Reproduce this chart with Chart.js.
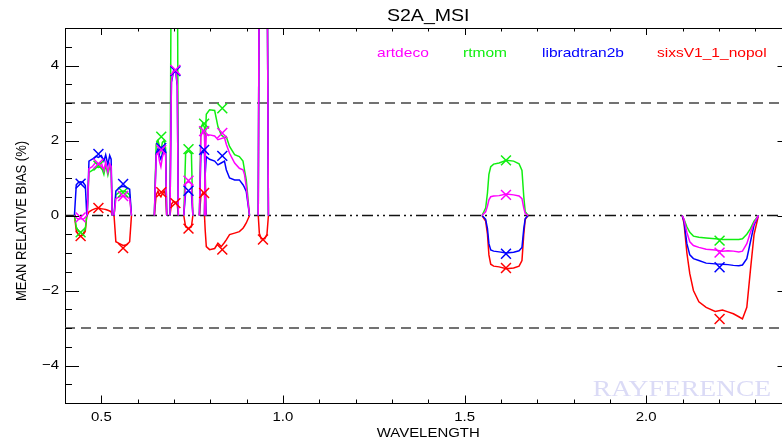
<!DOCTYPE html>
<html>
<head>
<meta charset="utf-8">
<script src="https://cdn.jsdelivr.net/npm/chart.js@4/dist/chart.umd.min.js"></script>
<style>
  html, body { margin: 0; padding: 0; background: #fff; overflow: hidden; }
</style>
</head>
<body>
<canvas id="biasChart" width="800" height="441"></canvas>
<script>
// Wavelength samples (micrometres) of each S2A MSI band curve
const bandWavelengths = [
  [0.426, 0.431, 0.437, 0.443, 0.450, 0.456, 0.460],
  [0.461, 0.466, 0.475, 0.485, 0.492, 0.500, 0.507, 0.512, 0.518, 0.523, 0.527, 0.530],
  [0.535, 0.540, 0.550, 0.560, 0.570, 0.578, 0.583],
  [0.646, 0.651, 0.656, 0.660, 0.664, 0.668, 0.673, 0.677, 0.680],
  [0.689, 0.693, 0.699, 0.705, 0.709, 0.712],
  [0.727, 0.732, 0.740, 0.748, 0.752],
  [0.770, 0.774, 0.779, 0.784, 0.788],
  [0.784, 0.786, 0.789, 0.798, 0.812, 0.821, 0.830, 0.839, 0.844, 0.853, 0.867, 0.880, 0.890, 0.894, 0.899, 0.908],
  [0.932, 0.935, 0.940, 0.950, 0.956, 0.960],
  [1.548, 1.558, 1.563, 1.567, 1.572, 1.580, 1.595, 1.615, 1.635, 1.650, 1.658, 1.663, 1.667, 1.675],
  [2.099, 2.104, 2.112, 2.120, 2.130, 2.145, 2.165, 2.190, 2.210, 2.225, 2.240, 2.255, 2.265, 2.277, 2.287, 2.297, 2.309]
];

// Mean relative bias (%) per band, same sampling as above (values > 5 are off scale)
const artdecoBias = [
  [0, -0.06, -0.1, -0.08, -0.1, -0.05, 0],
  [0, 1.25, 1.3, 1.42, 1.35, 1.4, 1.2, 1.42, 1.15, 1.38, 1.3, 0],
  [0, 0.45, 0.5, 0.52, 0.5, 0.45, 0],
  [0, 1.6, 1.7, 1.45, 1.3, 1.55, 1.7, 1.6, 0],
  [0, 3.6, 3.88, 3.85, 3.5, 0],
  [0, 0.85, 0.9, 0.85, 0],
  [0, 2.1, 2.25, 2.15, 0],
  [0, 1.5, 2.15, 2.15, 2.12, 2.02, 2.05, 2.08, 1.9, 1.66, 1.4, 1.26, 1.22, 1.1, 0.77, 0],
  [0, 8, 12, 12, 8, 0],
  [0, 0.1, 0.25, 0.42, 0.5, 0.52, 0.53, 0.57, 0.55, 0.52, 0.45, 0.2, 0.05, 0],
  [0, -0.1, -0.45, -0.7, -0.8, -0.85, -0.9, -0.92, -0.95, -0.94, -0.95, -0.97, -0.95, -0.75, -0.45, -0.2, 0]
];
const rtmomBias = [
  [0, -0.3, -0.42, -0.45, -0.5, -0.35, 0],
  [0, 1.15, 1.2, 1.3, 1.28, 1.3, 1.1, 1.35, 1.08, 1.3, 1.2, 0],
  [0, 0.55, 0.62, 0.65, 0.62, 0.55, 0],
  [0, 1.9, 2.0, 1.85, 1.7, 1.95, 2.0, 1.8, 0],
  [0, 8, 10, 10, 8, 0],
  [0, 1.65, 1.72, 1.65, 0],
  [0, 2.3, 2.45, 2.35, 0],
  [0, 2.0, 2.7, 2.82, 2.8, 2.37, 2.15, 2.07, 2.1, 1.84, 1.62, 1.57, 1.45, 1.22, 0.95, 0],
  [0, 8, 12, 12, 8, 0],
  [0, 0.2, 0.6, 1.1, 1.3, 1.37, 1.4, 1.47, 1.45, 1.38, 1.2, 0.5, 0.1, 0],
  [0, -0.1, -0.3, -0.45, -0.55, -0.58, -0.6, -0.62, -0.64, -0.64, -0.64, -0.64, -0.62, -0.5, -0.35, -0.15, 0]
];
const libradtranBias = [
  [0, 0.82, 0.88, 0.9, 0.88, 0.8, 0],
  [0, 1.45, 1.5, 1.58, 1.55, 1.6, 1.45, 1.62, 1.35, 1.6, 1.5, 0],
  [0, 0.65, 0.75, 0.78, 0.75, 0.7, 0],
  [0, 1.65, 1.78, 1.6, 1.5, 1.65, 1.8, 1.7, 0],
  [0, 3.55, 3.85, 3.82, 3.45, 0],
  [0, 0.6, 0.65, 0.6, 0],
  [0, 1.6, 1.72, 1.65, 0],
  [0, 1.1, 1.57, 1.5, 1.45, 1.35, 1.4, 1.45, 1.22, 1.0, 0.95, 0.95, 0.82, 0.75, 0.64, 0],
  [0, 8, 12, 12, 8, 0],
  [0, -0.1, -0.35, -0.75, -0.92, -0.95, -0.97, -1.0, -0.98, -0.94, -0.85, -0.35, -0.08, 0],
  [0, -0.15, -0.75, -1.05, -1.15, -1.2, -1.27, -1.29, -1.3, -1.31, -1.33, -1.34, -1.32, -1.15, -0.7, -0.25, 0]
];
const sixsBias = [
  [0, -0.4, -0.52, -0.55, -0.52, -0.4, 0],
  [0, 0.1, 0.15, 0.19, 0.2, 0.18, 0.17, 0.16, 0.14, 0.12, 0.1, 0],
  [0, -0.7, -0.75, -0.8, -0.78, -0.7, 0],
  [0, 0.55, 0.65, 0.55, 0.5, 0.58, 0.65, 0.55, 0],
  [0, 0.3, 0.38, 0.35, 0.3, 0],
  [0, -0.3, -0.35, -0.3, 0],
  [0, 0.5, 0.6, 0.55, 0],
  [0, -0.4, -0.83, -0.91, -0.88, -0.74, -0.83, -0.72, -0.65, -0.51, -0.47, -0.43, -0.34, -0.28, -0.2, 0],
  [0, -0.47, -0.62, -0.62, -0.5, 0],
  [0, -0.15, -0.5, -1.05, -1.3, -1.35, -1.37, -1.42, -1.4, -1.35, -1.2, -0.5, -0.1, 0],
  [0, -0.2, -1.0, -1.55, -2.0, -2.3, -2.45, -2.56, -2.52, -2.57, -2.62, -2.7, -2.76, -2.45, -1.45, -0.5, 0]
];

// Band-averaged bias, drawn as crosses at band centre (null = off scale)
const bandCenters = [0.443, 0.492, 0.560, 0.665, 0.704, 0.740, 0.783, 0.833, 0.945, 1.614, 2.202];
const artdecoMarks = [-0.05, 1.38, 0.52, 1.75, 3.88, 0.93, 2.25, 2.2, null, 0.55, -0.99];
const rtmomMarks = [-0.45, 1.33, 0.62, 2.1, null, 1.77, 2.45, 2.86, null, 1.47, -0.67];
const libradtranMarks = [0.85, 1.64, 0.84, 1.8, 3.85, 0.66, 1.75, 1.59, null, -1.02, -1.38];
const sixsMarks = [-0.55, 0.2, -0.87, 0.62, 0.33, -0.35, 0.6, -0.91, -0.64, -1.4, -2.76];

const seriesNames = ['artdeco', 'rtmom', 'libradtran2b', 'sixsV1_1_nopol'];
const seriesColors = ['#ff00ff', '#11ee11', '#0000ff', '#ff0000'];

const xTickValues = [0.5, 1.0, 1.5, 2.0];
const yTickValues = [-4, -2, 0, 2, 4];
const toleranceLevels = [3, -3];

const xMin = 0.4, xMax = 2.4, yMin = -5, yMax = 5;
const STRETCH = 1.15; // the original picture is a bit wider than tall

// flatten bands into one line, with a gap between bands
function toLine(values) {
  const pts = [];
  bandWavelengths.forEach((wl, b) => {
    wl.forEach((w, i) => pts.push({ x: w, y: values[b][i] }));
    pts.push({ x: wl[wl.length - 1] + 0.0005, y: null });
  });
  return pts;
}
function toMarks(values) {
  return bandCenters.map((w, i) => ({ x: w, y: values[i] })).filter(p => p.y !== null);
}

const lineSets = [artdecoBias, rtmomBias, libradtranBias, sixsBias];
const markSets = [artdecoMarks, rtmomMarks, libradtranMarks, sixsMarks];
const order = [0, 2, 1, 3]; // magenta on top

const datasets = [];
order.forEach(i => {
  datasets.push({
    type: 'scatter', label: seriesNames[i] + ' band', data: toMarks(markSets[i]),
    pointStyle: 'crossRot', pointRadius: 7, pointBorderWidth: 1.5,
    borderColor: seriesColors[i], backgroundColor: seriesColors[i], showLine: false
  });
});
order.forEach(i => {
  datasets.push({
    type: 'line', label: seriesNames[i], data: toLine(lineSets[i]),
    borderColor: seriesColors[i], borderWidth: 1.5, pointRadius: 0,
    tension: 0, spanGaps: false
  });
});
// reference lines
datasets.push({
  type: 'line', label: 'zero', data: [{ x: xMin, y: 0 }, { x: xMax, y: 0 }],
  borderColor: '#111', borderWidth: 1.3, borderDash: [11, 4, 2, 4, 2, 4], pointRadius: 0
});
toleranceLevels.forEach(v => {
  datasets.push({
    type: 'line', label: 'limit', data: [{ x: xMin, y: v }, { x: xMax, y: v }],
    borderColor: '#444', borderWidth: 1.6, borderDash: [10, 6], pointRadius: 0
  });
});

function stretchedText(ctx, text, x, y, size, color, align, baseline, family) {
  ctx.save();
  ctx.font = size + 'px ' + (family || '"Liberation Sans", Arial, sans-serif');
  ctx.fillStyle = color;
  ctx.textAlign = align;
  ctx.textBaseline = baseline;
  ctx.translate(x, y);
  ctx.scale(STRETCH, 1);
  ctx.fillText(text, 0, 0);
  ctx.restore();
}

const decorPlugin = {
  id: 'decor',
  beforeDatasetsDraw(chart) {
    const ctx = chart.ctx;
    stretchedText(ctx, 'RAYFERENCE', 682, 396, 24, 'rgba(215,215,245,0.9)', 'center', 'alphabetic',
      '"Liberation Serif", "Times New Roman", serif');
  },
  afterDraw(chart) {
    const ctx = chart.ctx;
    const a = chart.chartArea;
    const xs = chart.scales.x, ys = chart.scales.y;
    ctx.save();
    ctx.strokeStyle = '#000';
    ctx.lineWidth = 1;
    // top and right frame
    ctx.beginPath();
    ctx.moveTo(a.left, a.top + 0.5); ctx.lineTo(a.right, a.top + 0.5);
    ctx.moveTo(a.right - 0.5, a.top); ctx.lineTo(a.right - 0.5, a.bottom);
    ctx.stroke();
    // inward ticks
    ctx.beginPath();
    for (let k = 0; k <= 20; k++) {
      const v = xMin + k * 0.1;
      const major = Math.abs(v * 2 - Math.round(v * 2)) < 1e-6;
      const px = Math.round(xs.getPixelForValue(v)) + 0.5;
      ctx.moveTo(px, a.bottom); ctx.lineTo(px, a.bottom - (major ? 7.5 : 3.5));
      ctx.moveTo(px, a.top); ctx.lineTo(px, a.top + (major ? 7 : 3.5));
    }
    for (let k = 0; k <= 20; k++) {
      const v = yMin + k * 0.5;
      const major = Math.abs(v / 2 - Math.round(v / 2)) < 1e-6;
      const py = Math.round(ys.getPixelForValue(v)) + 0.5;
      ctx.moveTo(a.left, py); ctx.lineTo(a.left + (major ? 14 : 7), py);
      ctx.moveTo(a.right, py); ctx.lineTo(a.right - (major ? 14 : 7), py);
    }
    ctx.stroke();
    ctx.restore();

    // tick labels
    xTickValues.forEach(v => {
      stretchedText(ctx, v.toFixed(1), xs.getPixelForValue(v), 421, 13, '#000', 'center', 'alphabetic');
    });
    yTickValues.forEach(v => {
      const t = v < 0 ? '\u2212' + Math.abs(v) : String(v);
      stretchedText(ctx, t, 59, ys.getPixelForValue(v), 13, '#000', 'right', 'middle');
    });

    // titles
    const cx = (a.left + a.right) / 2;
    stretchedText(ctx, 'S2A_MSI', cx, 21, 17, '#000', 'center', 'alphabetic');
    stretchedText(ctx, 'WAVELENGTH', cx, 437, 13, '#000', 'center', 'alphabetic');
    ctx.save();
    ctx.font = '13px "Liberation Sans", Arial, sans-serif';
    ctx.fillStyle = '#000';
    ctx.textAlign = 'center';
    ctx.textBaseline = 'alphabetic';
    ctx.translate(25.5, 221);
    ctx.rotate(-Math.PI / 2);
    ctx.scale(1, STRETCH);
    ctx.fillText('MEAN RELATIVE BIAS (%)', 0, 0);
    ctx.restore();

    // legend texts
    const legendX = [377, 463, 542, 657];
    seriesNames.forEach((n, i) => {
      stretchedText(ctx, n, legendX[i], 57, 13.5, seriesColors[i], 'left', 'alphabetic');
    });
  }
};

new Chart(document.getElementById('biasChart'), {
  type: 'line',
  data: { datasets: datasets },
  options: {
    responsive: false,
    animation: false,
    devicePixelRatio: 1,
    layout: { padding: { top: 28, right: 5, left: 0, bottom: 0 } },
    plugins: { legend: { display: false }, tooltip: { enabled: false }, title: { display: false } },
    scales: {
      x: {
        type: 'linear', min: xMin, max: xMax,
        grid: { display: false, drawTicks: false },
        border: { display: true, color: '#000', width: 1 },
        ticks: { display: false },
        afterBuildTicks: s => { s.ticks = xTickValues.map(v => ({ value: v })); },
        afterFit: s => { s.height = 38; }
      },
      y: {
        type: 'linear', min: yMin, max: yMax,
        grid: { display: false, drawTicks: false },
        border: { display: true, color: '#000', width: 1 },
        ticks: { display: false },
        afterBuildTicks: s => { s.ticks = yTickValues.map(v => ({ value: v })); },
        afterFit: s => { s.width = 65; }
      }
    }
  },
  plugins: [decorPlugin]
});
</script>
</body>
</html>
